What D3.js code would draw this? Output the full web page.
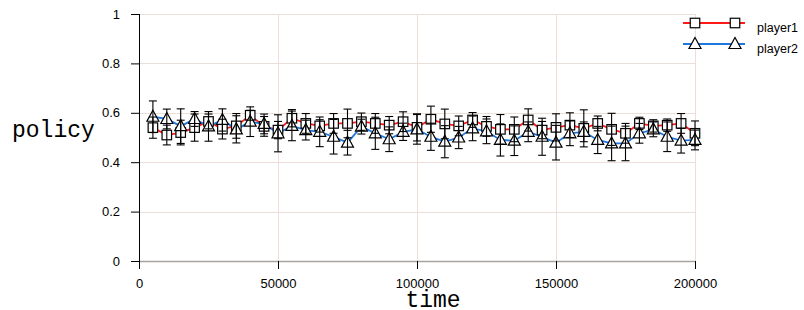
<!DOCTYPE html>
<html lang="en">
	<head>
		<meta charset="utf-8">
		<title>policy over time</title>
		<script type="text/javascript" src="https://d3js.org/d3.v7.min.js"></script>
		<style type="text/css">
			body{margin:0;background:#fff;}
			.tick text{font-family:"Liberation Sans",Arial,sans-serif;font-size:13px;fill:#000;}
			.axisTitle{font-family:"Liberation Mono","Courier New",monospace;font-size:23px;fill:#000;}
			.legendText{font-family:"Liberation Sans",Arial,sans-serif;font-size:12.5px;fill:#000;}
		</style>
	</head>
	<body>
		<div id="chart1"></div>
		<script type="text/javascript">
			var times = d3.range(1, 41).map(function(i){ return i * 5000 })
			var player1 = [0.54,0.51,0.52,0.54,0.565,0.534,0.547,0.59,0.545,0.53,
			               0.578,0.557,0.547,0.557,0.557,0.564,0.557,0.55,0.564,0.541,
			               0.574,0.555,0.547,0.571,0.545,0.533,0.533,0.571,0.53,0.541,
			               0.55,0.537,0.557,0.533,0.517,0.557,0.547,0.55,0.557,0.517]
			var player1Err = [0.043,0.04,0.05,0.055,0.03,0.04,0.05,0.02,0.04,0.035,
			                  0.035,0.04,0.025,0.04,0.058,0.035,0.04,0.035,0.04,0.055,
			                  0.053,0.06,0.04,0.03,0.04,0.06,0.05,0.045,0.035,0.055,
			                  0.05,0.075,0.03,0.065,0.04,0.025,0.025,0.025,0.04,0.05]
			var player2 = [0.584,0.575,0.546,0.575,0.545,0.571,0.533,0.564,0.555,0.517,
			               0.547,0.53,0.523,0.503,0.479,0.544,0.517,0.493,0.523,0.533,
			               0.503,0.483,0.5,0.537,0.525,0.49,0.487,0.523,0.503,0.479,
			               0.517,0.523,0.49,0.476,0.476,0.517,0.533,0.503,0.487,0.49]
			var player2Err = [0.064,0.04,0.07,0.03,0.06,0.045,0.055,0.06,0.04,0.075,
			                  0.06,0.04,0.06,0.07,0.05,0.03,0.065,0.05,0.035,0.06,
			                  0.055,0.065,0.045,0.05,0.05,0.065,0.06,0.04,0.075,0.07,
			                  0.05,0.04,0.055,0.07,0.07,0.04,0.03,0.06,0.05,0.04]
			var xTicks = [0,50000,100000,150000,200000]
			var yTicks = [0,0.2,0.4,0.6,0.8,1]
			var seriesNames = ["player1","player2"]

			var w = 804
			var h = 310
			// plot box (window.top is reserved, so use other names)
			var pLeft = 139, pRight = 695, pTop = 14, pBottom = 261

			var xScale = d3.scaleLinear()
				.domain([0,200000])
				.range([pLeft,pRight])
			var yScale = d3.scaleLinear()
				.domain([0,1])
				.range([pBottom,pTop])

			var svg = d3.select("#chart1")
				.append("svg")
				.attr("width",w)
				.attr("height",h)

			// grid
			svg.append("g")
				.selectAll("line")
				.data(yTicks.slice(1))
				.enter()
				.append("line")
				.attr("x1",pLeft).attr("x2",pRight)
				.attr("y1",function(d){ return Math.round(yScale(d))+0.5 })
				.attr("y2",function(d){ return Math.round(yScale(d))+0.5 })
				.attr("stroke","#ecdfd8")
				.attr("stroke-width",1)
			svg.append("g")
				.selectAll("line")
				.data(xTicks.slice(1))
				.enter()
				.append("line")
				.attr("y1",pTop).attr("y2",pBottom)
				.attr("x1",function(d){ return Math.round(xScale(d))+0.5 })
				.attr("x2",function(d){ return Math.round(xScale(d))+0.5 })
				.attr("stroke","#ecdfd8")
				.attr("stroke-width",1)

			// axes
			var xAxis = svg.append("g")
				.attr("transform","translate(0,"+pBottom+")")
				.call(d3.axisBottom(xScale).tickValues(xTicks).tickFormat(d3.format("d")).tickSize(8).tickPadding(10))
			xAxis.select(".domain").attr("stroke","#aaa29c").attr("stroke-width",1.5)
			xAxis.selectAll(".tick line").attr("stroke","#000")
			var yAxis = svg.append("g")
				.attr("transform","translate("+pLeft+",0)")
				.call(d3.axisLeft(yScale).tickValues(yTicks).tickFormat(d3.format("")).tickSize(8).tickPadding(11))
			yAxis.select(".domain").attr("stroke","#000").attr("d","M0.5,"+pTop+"V"+pBottom)
			yAxis.selectAll(".tick line").attr("stroke","#000")
			xAxis.select(".domain").attr("d","M"+pLeft+",0.5H"+pRight)

			svg.append("text")
				.attr("class","axisTitle")
				.attr("x",12)
				.attr("y",137)
				.text("policy")
			svg.append("text")
				.attr("class","axisTitle")
				.attr("x",433)
				.attr("y",307)
				.attr("text-anchor","middle")
				.text("time")

			var line = d3.line()
				.x(function(d,i){ return xScale(times[i]) })
				.y(function(d){ return yScale(d) })

			svg.append("path")
				.attr("d",line(player1))
				.attr("fill","none")
				.attr("stroke","#ff1a1a")
				.attr("stroke-width",1.8)
			svg.append("path")
				.attr("d",line(player2))
				.attr("fill","none")
				.attr("stroke","#1f78e0")
				.attr("stroke-width",1.8)

			var sq = 9.5
			var triPath = "M0,-6.5L6,4.5L-6,4.5Z"

			svg.append("g")
				.selectAll("rect")
				.data(player1)
				.enter()
				.append("rect")
				.attr("x",function(d,i){ return xScale(times[i]) - sq/2 })
				.attr("y",function(d){ return yScale(d) - sq/2 })
				.attr("width",sq)
				.attr("height",sq)
				.attr("fill","#fff")
				.attr("stroke","#000")
				.attr("stroke-width",1.2)
			svg.append("g")
				.selectAll("path")
				.data(player2)
				.enter()
				.append("path")
				.attr("d",triPath)
				.attr("transform",function(d,i){ return "translate("+xScale(times[i])+","+yScale(d)+")" })
				.attr("fill","#fff")
				.attr("stroke","#000")
				.attr("stroke-width",1.2)

			// error bars
			function errorBars(vals, errs){
				var g = svg.append("g").attr("stroke","#000").attr("stroke-width",1.1)
				vals.forEach(function(v,i){
					var x = xScale(times[i])
					var y1 = yScale(v + errs[i]), y2 = yScale(v - errs[i])
					g.append("line").attr("x1",x).attr("x2",x).attr("y1",y1).attr("y2",y2)
					g.append("line").attr("x1",x-4).attr("x2",x+4).attr("y1",y1).attr("y2",y1)
					g.append("line").attr("x1",x-4).attr("x2",x+4).attr("y1",y2).attr("y2",y2)
				})
			}
			errorBars(player1, player1Err)
			errorBars(player2, player2Err)

			// legend
			var legend = svg.append("g")
			seriesNames.forEach(function(name,i){
				var ly = 23 + i*21
				legend.append("line")
					.attr("x1",683).attr("x2",745)
					.attr("y1",ly).attr("y2",ly)
					.attr("stroke", i==0 ? "#ff1a1a" : "#1f78e0")
					.attr("stroke-width",1.8)
				;[695,735].forEach(function(mx){
					if(i==0){
						legend.append("rect")
							.attr("x",mx-sq/2).attr("y",ly-sq/2)
							.attr("width",sq).attr("height",sq)
							.attr("fill","#fff").attr("stroke","#000").attr("stroke-width",1.2)
					}else{
						legend.append("path")
							.attr("d",triPath)
							.attr("transform","translate("+mx+","+ly+")")
							.attr("fill","#fff").attr("stroke","#000").attr("stroke-width",1.2)
					}
				})
				legend.append("text")
					.attr("class","legendText")
					.attr("x",757)
					.attr("y",ly+9)
					.text(name)
			})
		</script>
	</body>
</html>
